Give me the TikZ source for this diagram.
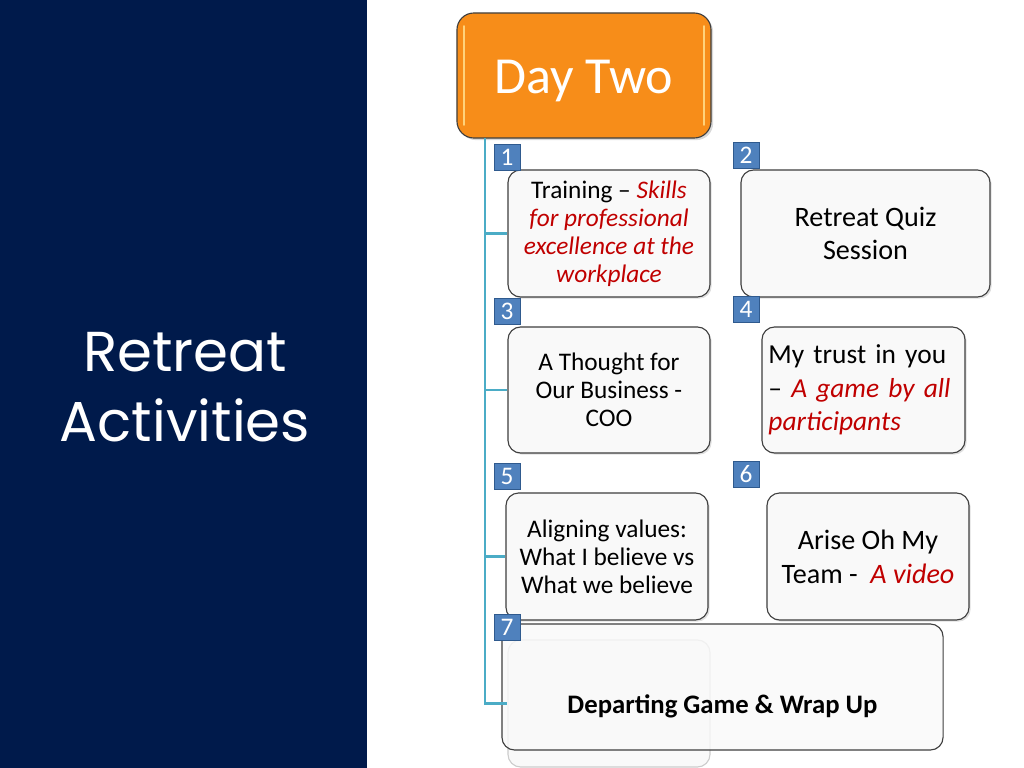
\documentclass[tikz,border=0pt]{standalone}
\usepackage{fontspec}
\setmainfont{Carlito}
\newfontfamily\titlefont{Poppins}
\usetikzlibrary{positioning,shadows}
\definecolor{panel}{HTML}{001A4B}
\definecolor{dayorange}{HTML}{F78D19}
\definecolor{dayglow}{HTML}{FFD27A}
\definecolor{boxfill}{HTML}{F9F9F9}
\definecolor{boxline}{HTML}{3F3F3F}
\definecolor{badge}{HTML}{4F81BD}
\definecolor{badgeB}{HTML}{2F5A8E}
\definecolor{spine}{HTML}{4BACC6}
\definecolor{accent}{HTML}{C00000}

\begin{document}
\begin{tikzpicture}[x=0.025cm, y=-0.025cm,
    every node/.style={text=black},
    card/.style={draw=boxline, fill=boxfill, rounded corners=9pt, align=center,
                 line width=0.8pt, inner sep=2pt},
    act/.style={card,
                drop shadow={opacity=0.25, shadow xshift=1.2pt, shadow yshift=-1.2pt}},
    small/.style={font=\fontsize{18}{20}\selectfont},
    large/.style={font=\fontsize{20}{24}\selectfont},
    num/.style={draw=badgeB, fill=badge, minimum size=0.65cm, inner sep=0pt,
                text=white, font=\fontsize{18}{18}\selectfont, line width=0.6pt},
    link/.style={draw=spine, line width=1.6pt},
  ]
  \useasboundingbox (0,0) rectangle (1024,768);

  % left panel with the title
  \fill[panel] (0,0) rectangle (367,768);
  \node[text=white, align=center, font=\titlefont\fontsize{40}{50}\selectfont] (title)
        at (185,387) {Retreat\\Activities};

  % the day heading
  \node[draw=boxline, fill=dayorange, rounded corners=12pt, line width=0.8pt,
        minimum width=6.35cm, minimum height=3.125cm, text=white,
        text height=0.975cm, text depth=0.1cm, font=\fontsize{37}{40}\selectfont,
        drop shadow={opacity=0.3, shadow xshift=1.5pt, shadow yshift=-1.5pt}] (day)
        at (584,75.5) {Day Two};
  \draw[dayglow, line width=1.2pt, line cap=round] (464,26) -- (464,125);
  \draw[dayglow, line width=1.2pt, line cap=round] (704,26) -- (704,125);

  % the activities
  \node[act, small, minimum width=5.05cm, minimum height=3.175cm] (t1) at (609,233.5)
        {Training -- \textcolor{accent}{\itshape Skills}\\
         \textcolor{accent}{\itshape for professional}\\
         \textcolor{accent}{\itshape excellence at the}\\
         \textcolor{accent}{\itshape workplace}};
  \node[act, large, minimum width=6.225cm, minimum height=3.175cm] (t2) at (865.5,233.5)
        {Retreat Quiz\\Session};
  \node[act, small, minimum width=5.05cm, minimum height=3.15cm] (t3) at (609,390)
        {A Thought for\\Our Business -\\COO};
  \node[act, font=\fontsize{19.5}{24}\selectfont, minimum width=5.075cm,
        minimum height=3.15cm, text width=4.75cm, align=left] (t4) at (863.5,390)
        {My trust in you\\-- \textcolor{accent}{\itshape A game by all}\\
         \textcolor{accent}{\itshape participants}};
  \node[act, small, minimum width=5.05cm, minimum height=3.175cm] (t5) at (607,556.5)
        {Aligning values:\\What I believe vs\\What we believe};
  \node[act, large, minimum width=5.05cm, minimum height=3.175cm] (t6) at (868,556.5)
        {Arise Oh My\\Team -~~\textcolor{accent}{\itshape A video}};
  \node[card, draw=gray!40, minimum width=5.05cm, minimum height=3.175cm] (ghost)
        at (609,703.5) {};
  \node[card, fill opacity=0.8, text opacity=1,
        minimum width=11.025cm, minimum height=3.15cm, text height=1.4cm, text depth=0.1cm,
        font=\fontsize{19}{20}\selectfont\bfseries] (t7)
        at (722.5,687) {Departing Game \& Wrap Up};

  % the spine and its branches
  \coordinate (top) at (485,138);
  \draw[link] (top) |- (ghost.west);
  \foreach \t in {t1,t3,t5}
    \draw[link] (top |- \t.west) -- (\t.west);

  % numbers
  \node[num] (n1) at (507,157) {1};
  \node[num] (n2) at (746,155) {2};
  \node[num] (n3) at (507,311) {3};
  \node[num] (n4) at (746,309) {4};
  \node[num] (n5) at (507,476) {5};
  \node[num] (n6) at (746,474) {6};
  \node[num] (n7) at (507,627) {7};
\end{tikzpicture}
\end{document}
